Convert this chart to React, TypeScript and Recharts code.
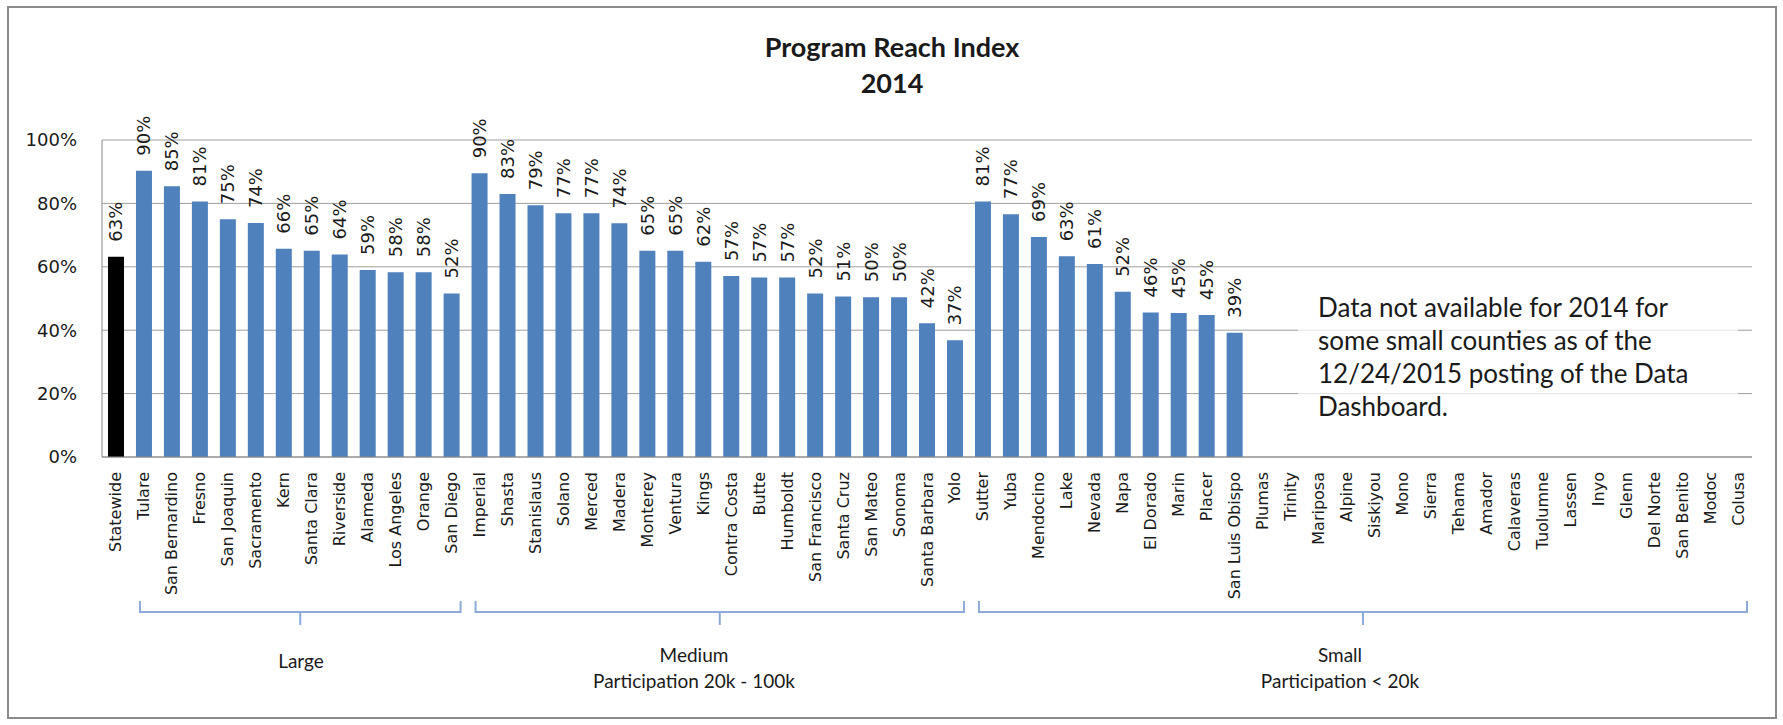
import { BarChart, Bar, XAxis, YAxis, CartesianGrid, Cell, LabelList } from 'recharts'

const W = 1783
const H = 725
const PLOT_LEFT = 102
const PLOT_RIGHT = 1752
const PLOT_TOP = 140
const PLOT_BOTTOM = 457

const counties = [
  'Statewide', 'Tulare', 'San Bernardino', 'Fresno', 'San Joaquin', 'Sacramento', 'Kern',
  'Santa Clara', 'Riverside', 'Alameda', 'Los Angeles', 'Orange', 'San Diego',
  'Imperial', 'Shasta', 'Stanislaus', 'Solano', 'Merced', 'Madera', 'Monterey', 'Ventura',
  'Kings', 'Contra Costa', 'Butte', 'Humboldt', 'San Francisco', 'Santa Cruz', 'San Mateo',
  'Sonoma', 'Santa Barbara', 'Yolo',
  'Sutter', 'Yuba', 'Mendocino', 'Lake', 'Nevada', 'Napa', 'El Dorado', 'Marin', 'Placer',
  'San Luis Obispo', 'Plumas', 'Trinity', 'Mariposa', 'Alpine', 'Siskiyou', 'Mono', 'Sierra',
  'Tehama', 'Amador', 'Calaveras', 'Tuolumne', 'Lassen', 'Inyo', 'Glenn', 'Del Norte',
  'San Benito', 'Modoc', 'Colusa',
]

// reach index in percent; null = not available yet
const reach: (number | null)[] = [
  63.2, 90.3, 85.4, 80.6, 75.0, 73.8, 65.7, 65.1, 63.9, 59.0, 58.3, 58.3, 51.6,
  89.5, 83.0, 79.4, 76.9, 76.9, 73.7, 65.1, 65.1, 61.6, 57.1, 56.6, 56.6, 51.6, 50.6, 50.4,
  50.4, 42.2, 36.8,
  80.6, 76.6, 69.4, 63.3, 60.9, 52.1, 45.6, 45.4, 44.8, 39.2,
  null, null, null, null, null, null, null, null, null, null, null, null, null, null, null,
  null, null, null,
]

const yTicks = [0, 20, 40, 60, 80, 100]

const groups = [
  { name: 'Large', sub: '', from: 1, to: 12, labelX: 301 },
  { name: 'Medium', sub: 'Participation 20k - 100k', from: 13, to: 30, labelX: 694 },
  { name: 'Small', sub: 'Participation < 20k', from: 31, to: 58, labelX: 1340 },
]

const note = [
  'Data not available for 2014 for',
  'some small counties as of the',
  '12/24/2015  posting of the Data',
  'Dashboard.',
]

const data = counties.map((name, i) => ({ name, value: reach[i] }))

const BLUE = '#4f81bd'
const TEXT = '#1a1a1a'
const BRACKET = '#8eaadb'

const band = (PLOT_RIGHT - PLOT_LEFT) / counties.length
const center = (i: number) => PLOT_LEFT + band * (i + 0.5)

function CountyTick(props: any) {
  const { x, y, payload } = props
  return (
    <text
      x={x}
      y={y}
      transform={`rotate(-90 ${x} ${y})`}
      textAnchor="end"
      dominantBaseline="central"
      fontFamily="DejaVu Sans"
      fontSize={16}
      fill={TEXT}
    >
      {payload.value}
    </text>
  )
}

function ValueLabel(props: any) {
  const { x, y, width, value } = props
  if (value == null) return null
  const cx = Number(x) + Number(width) / 2
  const ty = Number(y) - 15
  return (
    <text
      x={cx}
      y={ty}
      transform={`rotate(-90 ${cx} ${ty})`}
      textAnchor="start"
      dominantBaseline="central"
      fontFamily="DejaVu Sans"
      fontSize={18}
      fill={TEXT}
    >
      {Math.round(value)}%
    </text>
  )
}

export default function App() {
  return (
    <div style={{ position: 'absolute', left: 0, top: 0, width: W, height: H, background: '#fff' }}>
      <div
        style={{
          position: 'absolute',
          left: 7,
          top: 6,
          width: 1770,
          height: 713,
          boxSizing: 'border-box',
          border: '2px solid #8a8a8a',
        }}
      />
      <div style={{ position: 'absolute', left: 0, top: 0 }}>
        <BarChart
          width={W}
          height={H}
          data={data}
          margin={{ top: PLOT_TOP, right: W - PLOT_RIGHT, left: 0, bottom: 0 }}
          barSize={16}
        >
          <CartesianGrid vertical={false} stroke="#9e9e9e" />
          <XAxis
            dataKey="name"
            interval={0}
            height={H - PLOT_BOTTOM}
            tick={<CountyTick />}
            tickLine={false}
            tickSize={0}
            tickMargin={15}
            axisLine={{ stroke: '#888888' }}
          />
          <YAxis
            width={PLOT_LEFT}
            domain={[0, 100]}
            ticks={yTicks}
            tickFormatter={(v) => `${v}%`}
            tick={{ fill: TEXT, fontSize: 18, fontFamily: 'DejaVu Sans' }}
            tickLine={false}
            tickSize={0}
            tickMargin={25}
            axisLine={{ stroke: '#888888' }}
          />
          <Bar dataKey="value" isAnimationActive={false}>
            {data.map((d, i) => (
              <Cell key={d.name} fill={i === 0 ? '#000000' : BLUE} />
            ))}
            <LabelList dataKey="value" content={<ValueLabel />} />
          </Bar>
        </BarChart>
      </div>
      <svg
        width={W}
        height={H}
        style={{ position: 'absolute', left: 0, top: 0, pointerEvents: 'none' }}
      >
        <text x={892} y={57} textAnchor="middle" fontFamily="Lato" fontWeight={700} fontSize={27} fill={TEXT}>
          Program Reach Index
        </text>
        <text x={892} y={93} textAnchor="middle" fontFamily="Lato" fontWeight={700} fontSize={27} fill={TEXT}>
          2014
        </text>

        <rect x={1298} y={285} width={440} height={140} fill="#ffffff" fillOpacity={0.7} />
        {note.map((line, i) => (
          <text key={i} x={1318} y={317 + i * 33} fontFamily="Lato" fontSize={26} fill={TEXT}>
            {line}
          </text>
        ))}

        {groups.map((g) => {
          const l = center(g.from) - 4
          const r = center(g.to) + 9
          const m = (l + r) / 2
          return (
            <g key={g.name}>
              <path
                d={`M${l},601 L${l},612 L${r},612 L${r},601 M${m},612 L${m},625`}
                fill="none"
                stroke={BRACKET}
                strokeWidth={2}
              />
              <text x={g.labelX} y={g.sub ? 662 : 668} textAnchor="middle" fontFamily="Lato" fontSize={19} fill={TEXT}>
                {g.name}
              </text>
              {g.sub && (
                <text x={g.labelX} y={688} textAnchor="middle" fontFamily="Lato" fontSize={19} fill={TEXT}>
                  {g.sub}
                </text>
              )}
            </g>
          )
        })}
      </svg>
    </div>
  )
}
